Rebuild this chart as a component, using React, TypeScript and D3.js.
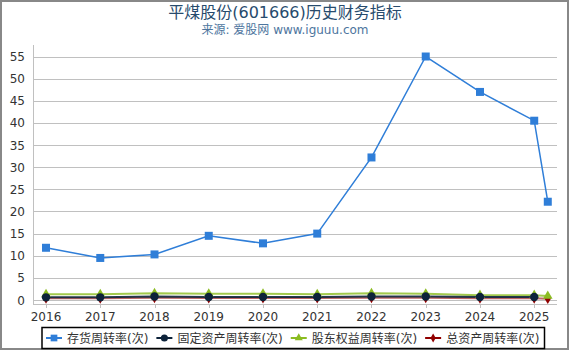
import React, { useEffect, useRef } from 'react';
import * as d3 from 'd3';

const years = [2016, 2017, 2018, 2019, 2020, 2021, 2022, 2023, 2024, 2025, 2025.25];
const xTicks = [2016, 2017, 2018, 2019, 2020, 2021, 2022, 2023, 2024, 2025];
const yTicks = [0, 5, 10, 15, 20, 25, 30, 35, 40, 45, 50, 55];

const inventoryTurnover = [11.8, 9.5, 10.3, 14.5, 12.8, 15.0, 32.2, 55.0, 47.0, 40.5, 22.2];
const fixedAssetTurnover = [0.6, 0.6, 0.8, 0.7, 0.7, 0.7, 0.8, 0.8, 0.7, 0.7, null];
const equityTurnover = [1.3, 1.3, 1.5, 1.4, 1.4, 1.3, 1.5, 1.4, 1.1, 1.1, 0.9];
const totalAssetTurnover = [0.4, 0.4, 0.5, 0.45, 0.45, 0.45, 0.5, 0.5, 0.4, 0.4, 0.3];

const seriesNames = ['存货周转率(次)', '固定资产周转率(次)', '股东权益周转率(次)', '总资产周转率(次)'];
const seriesColors = ['#2f7ed8', '#0d233a', '#8bbc21', '#910000'];
const seriesSymbols = ['square', 'circle', 'triangle', 'diamond'];

const App = () => {
	const chartRef = useRef<SVGSVGElement>(null);

	useEffect(() => {
		const width = 570;
		const height = 350;
		const margin = { top: 45, right: 13, bottom: 46, left: 33 };
		const font = '"DejaVu Sans", "Noto Sans CJK SC", sans-serif';

		const svg = d3.select(chartRef.current);
		svg.selectAll('*').remove();

		svg.append('rect')
			.attr('x', 1).attr('y', 1)
			.attr('width', width - 3).attr('height', height - 2)
			.attr('fill', '#fff')
			.attr('stroke', '#888')
			.attr('stroke-width', 2);

		svg.append('text')
			.attr('x', 285).attr('y', 18)
			.attr('text-anchor', 'middle')
			.style('font-family', font)
			.style('font-size', '16px')
			.attr('fill', '#274b6d')
			.text('平煤股份(601666)历史财务指标');

		svg.append('text')
			.attr('x', 285).attr('y', 34)
			.attr('text-anchor', 'middle')
			.style('font-family', font)
			.style('font-size', '12px')
			.attr('fill', '#4d759e')
			.text('来源: 爱股网 www.iguuu.com');

		const x = d3.scaleLinear()
			.domain([2015.76, 2025.42])
			.range([margin.left, width - margin.right]);
		const y = d3.scaleLinear()
			.domain([-0.9, 57.6])
			.range([height - margin.bottom, margin.top]);

		// grid
		svg.append('g')
			.selectAll('line')
			.data(yTicks)
			.join('line')
			.attr('x1', margin.left + 1).attr('x2', width - margin.right)
			.attr('y1', d => Math.round(y(d)) + 0.5).attr('y2', d => Math.round(y(d)) + 0.5)
			.attr('stroke', '#c0c0c0');

		svg.append('line')
			.attr('x1', margin.left + 0.5).attr('x2', margin.left + 0.5)
			.attr('y1', margin.top).attr('y2', height - margin.bottom)
			.attr('stroke', '#c0c0c0');

		svg.append('line')
			.attr('x1', margin.left).attr('x2', width - margin.right)
			.attr('y1', height - margin.bottom + 0.5).attr('y2', height - margin.bottom + 0.5)
			.attr('stroke', '#c0c0c0');

		svg.append('g')
			.selectAll('line')
			.data(xTicks)
			.join('line')
			.attr('x1', d => Math.round(x(d)) + 0.5).attr('x2', d => Math.round(x(d)) + 0.5)
			.attr('y1', height - margin.bottom).attr('y2', height - margin.bottom + 4)
			.attr('stroke', '#c0c0c0');

		svg.append('g')
			.selectAll('text')
			.data(xTicks)
			.join('text')
			.attr('x', d => x(d))
			.attr('y', height - margin.bottom + 17)
			.attr('text-anchor', 'middle')
			.style('font-family', font)
			.style('font-size', '12px')
			.attr('fill', '#333')
			.text(d => d);

		svg.append('g')
			.selectAll('text')
			.data(yTicks)
			.join('text')
			.attr('x', 25)
			.attr('y', d => y(d) + 4.5)
			.attr('text-anchor', 'end')
			.style('font-family', font)
			.style('font-size', '12px')
			.attr('fill', '#333')
			.text(d => d);

		const allSeries = [inventoryTurnover, fixedAssetTurnover, equityTurnover, totalAssetTurnover];
		const widths = [1.5, 2, 2, 2];
		const opacity = [1, 0.9, 0.8, 0.6];

		const symbolType = (s: string) =>
			s === 'square' ? d3.symbolSquare : s === 'circle' ? d3.symbolCircle : s === 'triangle' ? d3.symbolTriangle : d3.symbolDiamond;
		const symbolSize = (s: string) => (s === 'square' ? 64 : s === 'circle' ? 56 : s === 'triangle' ? 40 : 34);

		const line = d3.line<[number, number | null]>()
			.defined(d => d[1] !== null)
			.x(d => x(d[0]))
			.y(d => y(d[1] as number));

		// draw small series first, inventory last on top
		[3, 2, 1, 0].forEach(i => {
			const pts = years.map((yr, j) => [yr, allSeries[i][j]] as [number, number | null]);
			svg.append('path')
				.datum(pts)
				.attr('fill', 'none')
				.attr('stroke', seriesColors[i])
				.attr('stroke-width', widths[i])
				.attr('stroke-opacity', opacity[i])
				.attr('d', line);
		});
		[3, 2, 1, 0].forEach(i => {
			const pts = years.map((yr, j) => [yr, allSeries[i][j]] as [number, number | null]).filter(d => d[1] !== null);
			svg.append('g')
				.selectAll('path')
				.data(pts)
				.join('path')
				.attr('transform', d => `translate(${x(d[0])},${y(d[1] as number)})`)
				.attr('d', d3.symbol().type(symbolType(seriesSymbols[i])).size(symbolSize(seriesSymbols[i])))
				.attr('fill', seriesColors[i]);
		});

		// legend
		const legend = svg.append('g');
		const box = legend.append('rect')
			.attr('fill', '#fff')
			.attr('stroke', '#000')
			.attr('stroke-width', 1.5);
		let lx = 46;
		const ly = 338;
		seriesNames.forEach((name, i) => {
			legend.append('line')
				.attr('x1', lx).attr('x2', lx + 16)
				.attr('y1', ly).attr('y2', ly)
				.attr('stroke', seriesColors[i])
				.attr('stroke-width', 2);
			legend.append('path')
				.attr('transform', `translate(${lx + 8},${ly})`)
				.attr('d', d3.symbol().type(symbolType(seriesSymbols[i])).size(symbolSize(seriesSymbols[i]) * 0.7))
				.attr('fill', seriesColors[i]);
			const t = legend.append('text')
				.attr('x', lx + 21)
				.attr('y', ly + 4.5)
				.style('font-family', font)
				.style('font-size', '12px')
				.attr('fill', '#333')
				.text(name);
			const w = (t.node() as SVGTextElement).getComputedTextLength();
			lx += 21 + w + 8;
		});
		box.attr('x', 42).attr('y', 327.5)
			.attr('width', lx - 8 + 5 - 42)
			.attr('height', 21);
	}, []);

	return (
		<svg ref={chartRef} width={570} height={350} style={{ position: 'absolute', left: 0, top: 0 }} />
	);
};

export default App;
